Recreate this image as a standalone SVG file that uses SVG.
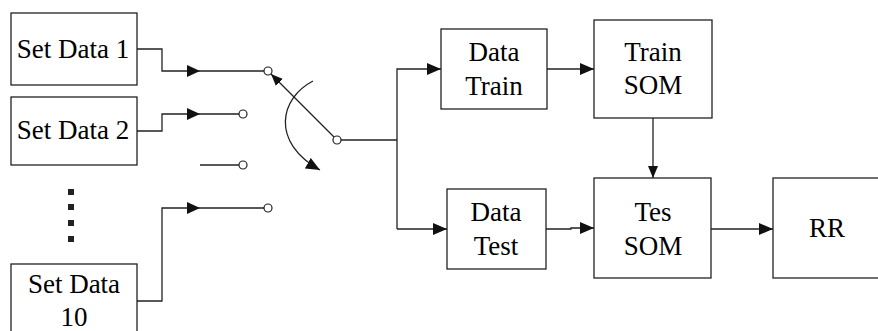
<svg xmlns="http://www.w3.org/2000/svg" width="878" height="331" viewBox="0 0 878 331">
<defs>
<marker id="arr" viewBox="0 0 14 12" refX="14" refY="6" markerWidth="14" markerHeight="12" markerUnits="userSpaceOnUse" orient="auto">
<path d="M0,0 L14,6 L0,12 Z" fill="#111"/>
</marker>
<marker id="arrs" viewBox="0 0 12 10" refX="12" refY="5" markerWidth="12" markerHeight="10" markerUnits="userSpaceOnUse" orient="auto">
<path d="M0,0 L12,5 L0,10 Z" fill="#111"/>
</marker>
</defs>
<rect width="878" height="331" fill="#fff"/>
<g fill="#fff" stroke="#222" stroke-width="1.3">
<rect id="box-set1" x="11" y="13" width="126" height="72"/>
<rect id="box-set2" x="11" y="97" width="126" height="68"/>
<rect id="box-set10" x="11" y="264" width="126" height="80"/>
<rect id="box-dataTrain" x="441" y="29" width="106" height="80"/>
<rect id="box-trainSOM" x="594" y="20" width="118" height="98"/>
<rect id="box-dataTest" x="447" y="189" width="99" height="80"/>
<rect id="box-tesSOM" x="594" y="178" width="117" height="100"/>
<rect id="box-rr" x="773" y="178" width="110" height="100"/>
</g>
<g id="dots" fill="#222"><rect x="68" y="189" width="6" height="6"/><rect x="68" y="204" width="6" height="6"/><rect x="68" y="220" width="6" height="6"/><rect x="68" y="236" width="6" height="6"/></g>
<g id="set1"><text x="73" y="58" font-size="27" text-anchor="middle" font-family="'Liberation Serif'">Set Data 1</text></g>
<g id="set2"><text x="73" y="139" font-size="27" text-anchor="middle" font-family="'Liberation Serif'">Set Data 2</text></g>
<g id="set10"><text x="74" y="293" font-size="27" text-anchor="middle" font-family="'Liberation Serif'">Set Data</text><text x="74" y="326" font-size="27" text-anchor="middle" font-family="'Liberation Serif'">10</text></g>
<g id="dataTrain"><text x="494" y="61" font-size="27" text-anchor="middle" font-family="'Liberation Serif'">Data</text><text x="494" y="95" font-size="27" text-anchor="middle" font-family="'Liberation Serif'">Train</text></g>
<g id="trainSOM"><text x="653" y="61" font-size="27" text-anchor="middle" font-family="'Liberation Serif'">Train</text><text x="653" y="94" font-size="27" text-anchor="middle" font-family="'Liberation Serif'">SOM</text></g>
<g id="dataTest"><text x="496" y="221" font-size="27" text-anchor="middle" font-family="'Liberation Serif'">Data</text><text x="496" y="255" font-size="27" text-anchor="middle" font-family="'Liberation Serif'">Test</text></g>
<g id="tesSOM"><text x="653" y="221" font-size="27" text-anchor="middle" font-family="'Liberation Serif'">Tes</text><text x="653" y="255" font-size="27" text-anchor="middle" font-family="'Liberation Serif'">SOM</text></g>
<g id="rr"><text x="827" y="237" font-size="27" text-anchor="middle" font-family="'Liberation Serif'">RR</text></g>
<g id="connectors" fill="none" stroke="#222" stroke-width="1.3">
<polyline points="137,49 162,49 162,71 264,71"/>
<path d="M187,65 L200,71 L187,77 Z" fill="#111" stroke="none"/>
<polyline points="137,131 162,131 162,114 239,114"/>
<path d="M187,108 L200,114 L187,120 Z" fill="#111" stroke="none"/>
<line x1="200" y1="165" x2="239" y2="165"/>
<polyline points="137,301 162,301 162,208 264,208"/>
<path d="M187,202 L200,208 L187,214 Z" fill="#111" stroke="none"/>
<circle cx="268" cy="71" r="4" fill="#fff" stroke-width="1.2"/>
<circle cx="243" cy="114" r="4" fill="#fff" stroke-width="1.2"/>
<circle cx="243" cy="165" r="4" fill="#fff" stroke-width="1.2"/>
<circle cx="268" cy="208" r="4" fill="#fff" stroke-width="1.2"/>
<line x1="334" y1="137" x2="271" y2="74" marker-end="url(#arrs)"/>
<path d="M313,81 C280,98 270,142 320,170" marker-end="url(#arr)"/>
<circle cx="337" cy="140" r="4" fill="#fff" stroke-width="1.2"/>
<polyline points="341,140 397,140"/>
<polyline points="397,229 397,69 441,69" marker-end="url(#arr)"/>
<polyline points="397,229 447,229" marker-end="url(#arr)"/>
<line x1="547" y1="69" x2="594" y2="69" marker-end="url(#arr)"/>
<line x1="653" y1="118" x2="653" y2="178" marker-end="url(#arrs)"/>
<polyline points="546,229 571,229 571,228 594,228" marker-end="url(#arr)"/>
<line x1="711" y1="229" x2="773" y2="229" marker-end="url(#arr)"/>
</g>
</svg>
